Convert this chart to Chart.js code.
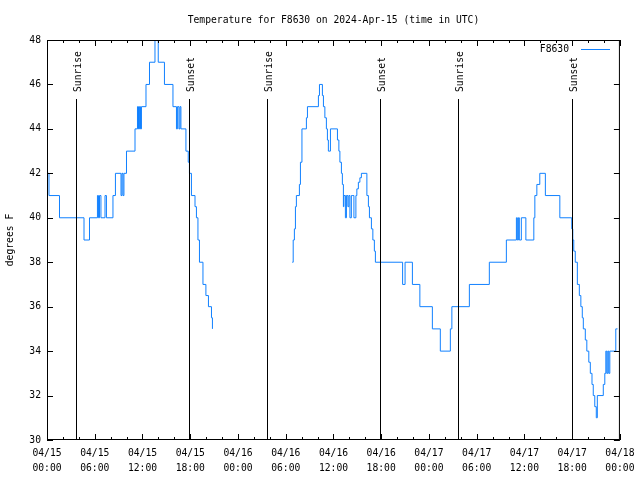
<!DOCTYPE html>
<html>
<head>
<meta charset="utf-8">
<script src="https://cdn.jsdelivr.net/npm/chart.js@4/dist/chart.umd.min.js"></script>
<style>
  html, body { margin: 0; padding: 0; background: #fff; }
  canvas { display: block; }
</style>
</head>
<body>
<canvas id="temp-chart" width="640" height="480"></canvas>
<script>
  // ── Data (hours since 04/15 00:00 UTC, degrees F) ─────────
  const tempHours = [
    0, 0.25, 1.57, 4.65, 5.34, 6.34, 6.47, 6.6, 6.78, 7.29, 7.47, 8.29, 8.6,
    9.3, 9.42, 9.55, 9.67, 9.99, 11.06, 11.37, 11.5, 11.62, 11.75, 11.87,
    12.44, 12.88, 13.57, 13.98, 14.76, 15.83, 16.27, 16.39, 16.58, 16.71,
    16.83, 17.46, 17.75, 17.9, 18.15, 18.6, 18.78, 18.97, 19.16, 19.6, 19.97,
    20.29, 20.67, 20.79,
    25,
    30.82, 30.94, 31.09, 31.22, 31.34, 31.72, 31.85, 32.04, 32.6, 32.73,
    34.11, 34.24, 34.61, 34.74, 34.92, 35.11, 35.24, 35.36, 35.62, 36.5,
    36.68, 36.81, 37.0, 37.12, 37.25, 37.31, 37.5, 37.63, 37.81, 37.94,
    38.07, 38.25, 38.44, 38.57, 38.82, 38.94, 39.13, 39.32, 39.51, 40.2,
    40.39, 40.52, 40.77, 40.95, 41.14, 41.27, 44.69, 45.0, 45.92, 46.86,
    48.43, 49.43, 50.69, 50.88, 53.08, 55.59, 57.73, 58.99, 59.11, 59.24,
    59.36, 59.61, 60.18, 61.18, 61.31, 61.56, 61.93, 62.63, 64.45, 65.95,
    66.08, 66.2, 66.39, 66.65, 66.9, 67.09, 67.27, 67.4, 67.65, 67.84,
    68.09, 68.28, 68.49, 68.65, 68.84, 69.03, 69.16, 69.91, 70.1, 70.23,
    70.35, 70.48, 70.6, 70.73, 71.48, 71.7
  ];
  const tempValues = [
    42, 41, 40, 39, 40, 41, 40, 41, 40, 41, 40, 41, 42,
    41, 42, 41, 42, 43, 44, 45, 44, 45, 44, 45,
    46, 47, 48, 47, 46, 45, 44, 45, 44, 45,
    44, 43, 42.5, 42, 41, 40.5, 40, 39, 38, 37, 36.5,
    36, 35.5, 35,
    null,
    38, 39, 39.5, 40.5, 41, 41.5, 42.5, 44, 44.5, 45,
    45.5, 46, 45.5, 45, 44.5, 44, 43.5, 43, 44, 43.5,
    43, 42.5, 42, 41.5, 40.5, 41, 40, 41, 40.5, 41,
    40, 41, 41, 40, 41, 41.3, 41.6, 41.8, 42, 41,
    40.5, 40, 39.5, 39, 38.5, 38, 37, 38, 37, 36,
    35, 34, 35, 36, 37, 38, 39, 40, 39, 40,
    39, 40, 39, 40, 41, 41.5, 42, 41, 40, 39.5,
    39, 38.5, 38, 37, 36.5, 36, 35.5, 35, 34.5, 34,
    33.5, 33, 32.5, 32, 31.5, 31, 32, 32.5, 33, 34,
    33, 34, 33, 34, 35, 35
  ];

  const sunHours  = [3.64, 17.88, 27.68, 41.87, 51.67, 65.99];
  const sunLabels = ['Sunrise', 'Sunset', 'Sunrise', 'Sunset', 'Sunrise', 'Sunset'];

  const xTickDays  = ['04/15', '04/15', '04/15', '04/15', '04/16', '04/16', '04/16',
                      '04/16', '04/17', '04/17', '04/17', '04/17', '04/18'];
  const xTickTimes = ['00:00', '06:00', '12:00', '18:00', '00:00', '06:00', '12:00',
                      '18:00', '00:00', '06:00', '12:00', '18:00', '00:00'];

  const seriesName = 'F8630';
  const lineColor  = 'rgb(16,128,255)';
  const FONT = "'DejaVu Sans Mono', monospace";

  // ── Frame, ticks, sun lines, labels ───────────────────────
  const decor = {
    id: 'decor',
    afterDatasetsDraw(chart) {
      const { ctx, chartArea: a, scales: { x, y } } = chart;
      ctx.save();
      ctx.strokeStyle = '#000';
      ctx.lineWidth = 1;

      // sunrise / sunset lines
      ctx.fillStyle = '#000';
      ctx.font = '9.7px ' + FONT;
      sunHours.forEach((h, i) => {
        const px = Math.round(x.getPixelForValue(h)) + 0.5;
        ctx.beginPath();
        ctx.moveTo(px, a.top + 59);
        ctx.lineTo(px, a.bottom);
        ctx.stroke();
        ctx.save();
        ctx.translate(px + 1.5, a.top + 52);
        ctx.rotate(-Math.PI / 2);
        ctx.textAlign = 'left';
        ctx.textBaseline = 'middle';
        ctx.fillText(sunLabels[i], 0, 0);
        ctx.restore();
      });

      // frame
      ctx.strokeRect(a.left + 0.5, a.top + 0.5, a.right - a.left - 1, a.bottom - a.top - 1);

      // x ticks (major every 6h, minor every 2h), bottom and top
      ctx.beginPath();
      for (let h = 0; h <= 72; h += 2) {
        const px = Math.round(x.getPixelForValue(h)) + 0.5;
        const len = h % 6 === 0 ? 6 : 3;
        ctx.moveTo(px, a.bottom); ctx.lineTo(px, a.bottom - len);
        ctx.moveTo(px, a.top);    ctx.lineTo(px, a.top + len);
      }
      // y ticks, left and right
      for (let v = 30; v <= 48; v += 2) {
        const py = Math.round(y.getPixelForValue(v)) + 0.5;
        ctx.moveTo(a.left, py);  ctx.lineTo(a.left + 6, py);
        ctx.moveTo(a.right, py); ctx.lineTo(a.right - 6, py);
      }
      ctx.stroke();

      // title
      ctx.font = '9.7px ' + FONT;
      ctx.textAlign = 'center';
      ctx.textBaseline = 'middle';
      ctx.fillText('Temperature for F8630 on 2024-Apr-15 (time in UTC)', (a.left + a.right) / 2, 20);

      // y axis title
      ctx.save();
      ctx.translate(10, (a.top + a.bottom) / 2);
      ctx.rotate(-Math.PI / 2);
      ctx.fillText('degrees F', 0, 0);
      ctx.restore();

      // legend
      ctx.textAlign = 'right';
      ctx.fillText(seriesName, 569, 49);
      ctx.strokeStyle = lineColor;
      ctx.beginPath();
      ctx.moveTo(581, 49.5);
      ctx.lineTo(610, 49.5);
      ctx.stroke();

      ctx.restore();
    }
  };

  new Chart(document.getElementById('temp-chart'), {
    type: 'line',
    data: {
      datasets: [{
        label: seriesName,
        data: tempHours.map((h, i) => ({ x: h, y: tempValues[i] })),
        borderColor: lineColor,
        borderWidth: 1,
        pointRadius: 0,
        stepped: true,
        spanGaps: false,
        fill: false
      }]
    },
    options: {
      responsive: false,
      animation: false,
      layout: { padding: { top: 40, right: 20, left: 0, bottom: 0 } },
      plugins: {
        legend: { display: false },
        tooltip: { enabled: false }
      },
      scales: {
        x: {
          type: 'linear',
          min: 0,
          max: 72,
          afterFit: s => { s.height = 40; },
          afterBuildTicks: s => {
            s.ticks = xTickDays.map((_, i) => ({ value: i * 6 }));
          },
          grid: { display: false, drawTicks: false },
          border: { display: false },
          ticks: {
            color: '#000',
            maxRotation: 0,
            autoSkip: false,
            padding: 5.5,
            font: { family: FONT, size: 9.7, lineHeight: 1.55 },
            callback: v => [xTickDays[v / 6], xTickTimes[v / 6]]
          }
        },
        y: {
          min: 30,
          max: 48,
          afterFit: s => { s.width = 47; },
          grid: { display: false, drawTicks: false },
          border: { display: false },
          ticks: {
            stepSize: 2,
            color: '#000',
            padding: 6,
            font: { family: FONT, size: 9.7 }
          }
        }
      }
    },
    plugins: [decor]
  });
</script>
</body>
</html>
